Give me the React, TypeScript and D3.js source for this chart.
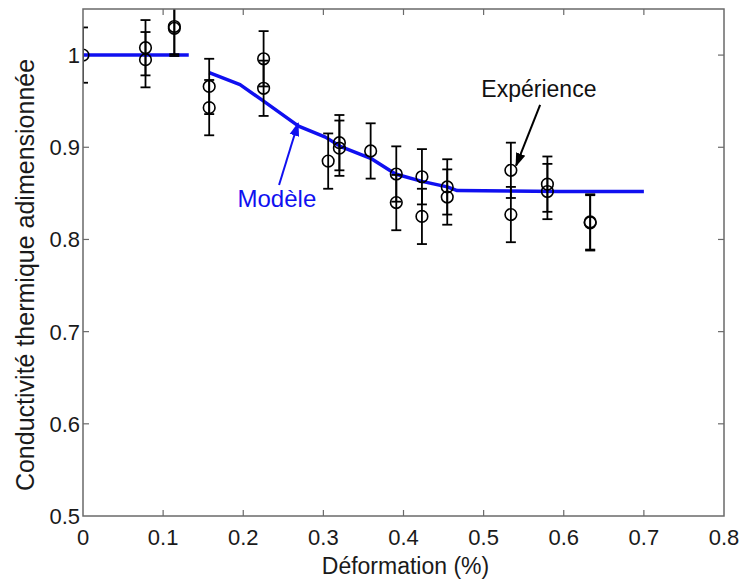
import React from "react";
import * as d3 from "d3";

// ---- data ----
const expX = [0, 0.078, 0.078, 0.114, 0.114, 0.1575, 0.1575, 0.2254, 0.2254, 0.306, 0.32, 0.32, 0.359, 0.391, 0.391, 0.423, 0.423, 0.4546, 0.4546, 0.534, 0.534, 0.5796, 0.5796, 0.633, 0.633];
const expY = [1.0, 1.008, 0.995, 1.031, 1.029, 0.966, 0.943, 0.996, 0.964, 0.885, 0.905, 0.899, 0.896, 0.871, 0.84, 0.868, 0.825, 0.857, 0.846, 0.875, 0.827, 0.86, 0.852, 0.819, 0.818];
const expErr = [0.03, 0.03, 0.03, 0.03, 0.03, 0.03, 0.03, 0.03, 0.03, 0.03, 0.03, 0.03, 0.03, 0.03, 0.03, 0.03, 0.03, 0.03, 0.03, 0.03, 0.03, 0.03, 0.03, 0.03, 0.03];

const model1X = [0, 0.132];
const model1Y = [1.0, 1.0];
const model2X = [0.1575, 0.196, 0.2254, 0.269, 0.3025, 0.321, 0.359, 0.39, 0.423, 0.4546, 0.467, 0.596, 0.7];
const model2Y = [0.981, 0.968, 0.95, 0.923, 0.911, 0.901, 0.888, 0.871, 0.863, 0.857, 0.853, 0.852, 0.852];

const xTicks = [0, 0.1, 0.2, 0.3, 0.4, 0.5, 0.6, 0.7, 0.8];
const yTicks = [0.5, 0.6, 0.7, 0.8, 0.9, 1.0];
const xLabel = "Déformation (%)";
const yLabel = "Conductivité thermique adimensionnée";
const expLabel = "Expérience";
const modelLabel = "Modèle";

const W = 745, H = 580;
const M = { left: 83, right: 21, top: 9, bottom: 64 };
const FONT = "'Liberation Sans', Arial, Helvetica, sans-serif";
const BLUE = "#1010f0";

export default function App() {
  const x = d3.scaleLinear().domain([0, 0.8]).range([M.left, W - M.right]);
  const y = d3.scaleLinear().domain([0.5, 1.05]).range([H - M.bottom, M.top]);
  const mk = (xs: number[], ys: number[]) =>
    d3.line<number>().x((d) => x(d)).y((_, i) => y(ys[i]))(xs) || "";
  const x0 = x(0), x1 = x(0.8), y0 = y(0.5), y1 = y(1.05);
  const tl = 6;
  const cap = 5;
  const fmt = (v: number) => (v === 1 ? "1" : String(+v.toFixed(1)));

  return (
    <svg width={W} height={H} style={{ position: "absolute", left: 0, top: 0, background: "#fff" }} fontFamily={FONT}>
      <defs>
        <clipPath id="plot">
          <rect x={x0} y={y1} width={x1 - x0} height={y0 - y1} />
        </clipPath>
        <marker id="ahBlack" viewBox="0 0 10 10" refX="9" refY="5" markerWidth="7" markerHeight="7" orient="auto" markerUnits="strokeWidth">
          <path d="M0,1.5 L10,5 L0,8.5 z" fill="#000" />
        </marker>
        <marker id="ahBlue" viewBox="0 0 10 10" refX="9" refY="5" markerWidth="7" markerHeight="7" orient="auto" markerUnits="strokeWidth">
          <path d="M0,1.5 L10,5 L0,8.5 z" fill={BLUE} />
        </marker>
      </defs>
      <rect x={0} y={0} width={W} height={H} fill="#fff" />

      {/* ticks */}
      <g stroke="#6a6a6a" strokeWidth={1.2}>
        {xTicks.slice(1, -1).map((t) => (
          <g key={"xt" + t}>
            <line x1={x(t)} x2={x(t)} y1={y0} y2={y0 - tl} />
            <line x1={x(t)} x2={x(t)} y1={y1} y2={y1 + tl} />
          </g>
        ))}
        {yTicks.slice(1).map((t) => (
          <g key={"yt" + t}>
            <line x1={x0} x2={x0 + tl} y1={y(t)} y2={y(t)} />
            <line x1={x1} x2={x1 - tl} y1={y(t)} y2={y(t)} />
          </g>
        ))}
      </g>

      <g clipPath="url(#plot)">
        {/* model */}
        <path d={mk(model1X, model1Y)} fill="none" stroke={BLUE} strokeWidth={3.5} />
        <path d={mk(model2X, model2Y)} fill="none" stroke={BLUE} strokeWidth={3.5} strokeLinejoin="round" />
        {/* error bars */}
        <g stroke="#000" strokeWidth={1.8} fill="none">
          {expX.map((vx, i) => {
            const cx = x(vx);
            const top = y(expY[i] + expErr[i]);
            const bot = y(expY[i] - expErr[i]);
            return (
              <g key={"e" + i}>
                <line x1={cx} x2={cx} y1={top} y2={bot} />
                <line x1={cx - cap} x2={cx + cap} y1={top} y2={top} />
                <line x1={cx - cap} x2={cx + cap} y1={bot} y2={bot} />
              </g>
            );
          })}
          {expX.map((vx, i) => (
            <circle key={"c" + i} cx={x(vx)} cy={y(expY[i])} r={5.8} strokeWidth={1.6} />
          ))}
        </g>
      </g>

      {/* box */}
      <rect x={x0} y={y1} width={x1 - x0} height={y0 - y1} fill="none" stroke="#6a6a6a" strokeWidth={1.5} />

      {/* tick labels */}
      <g fontSize={22} fill="#1a1a1a">
        {xTicks.map((t) => (
          <text key={"xl" + t} x={x(t)} y={y0 + 29} textAnchor="middle">
            {fmt(t)}
          </text>
        ))}
        {yTicks.map((t) => (
          <text key={"yl" + t} x={x0 - 3} y={y(t) + 8} textAnchor="end">
            {fmt(t)}
          </text>
        ))}
      </g>

      {/* axis labels */}
      <text x={(x0 + x1) / 2 + 2} y={H - 6} textAnchor="middle" fontSize={23} fill="#1a1a1a">
        {xLabel}
      </text>
      <text transform={`translate(34,275) rotate(-90)`} textAnchor="middle" fontSize={25} fill="#1a1a1a">
        {yLabel}
      </text>

      {/* annotations */}
      <text x={x(0.569)} y={y(0.9546)} textAnchor="middle" fontSize={23} fill="#111">
        {expLabel}
      </text>
      <line x1={x(0.5705)} y1={y(0.946)} x2={x(0.5405)} y2={y(0.88)} stroke="#000" strokeWidth={2} markerEnd="url(#ahBlack)" />
      <text x={x(0.242)} y={y(0.8353)} textAnchor="middle" fontSize={24} fill={BLUE}>
        {modelLabel}
      </text>
      <line x1={x(0.2447)} y1={y(0.859)} x2={x(0.2684)} y2={y(0.926)} stroke={BLUE} strokeWidth={2} markerEnd="url(#ahBlue)" />
    </svg>
  );
}
